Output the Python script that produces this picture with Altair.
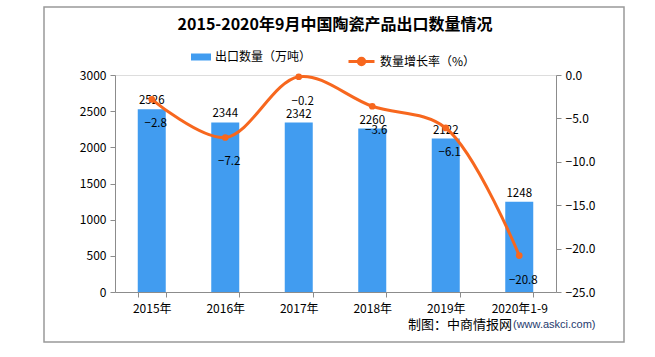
import altair as alt
import pandas as pd

categories = ["2015年", "2016年", "2017年", "2018年", "2019年", "2020年1-9"]
export_volume = [2526, 2344, 2342, 2260, 2122, 1248]
growth_rate = [-2.8, -7.2, -0.2, -3.6, -6.1, -20.8]
left_ticks = [0, 500, 1000, 1500, 2000, 2500, 3000]
right_ticks = [0, -5, -10, -15, -20, -25]
bar_series = "出口数量（万吨）"
line_series = "数量增长率（%）"
title_text = "2015-2020年9月中国陶瓷产品出口数量情况"

FONT = "Noto Sans CJK SC"
BLUE = "#419CF0"
ORANGE = "#F7671E"
GRAY = "#8C8C8C"

df = pd.DataFrame({
    "cat": categories,
    "vol": export_volume,
    "rate": growth_rate,
    "s1": [bar_series] * len(categories),
    "s2": [line_series] * len(categories),
})

base = alt.Chart(df)
x_enc = alt.X(
    "cat:N", sort=categories, title=None,
    scale=alt.Scale(paddingInner=0.62, paddingOuter=0.31),
    axis=alt.Axis(labelAngle=0, tickBand="extent", domainColor=GRAY, tickColor=GRAY,
                  tickSize=5, labelFontSize=12, labelColor="#000", labelPadding=6,
                  labelFont=FONT, grid=False),
)
left_axis = alt.Axis(values=left_ticks, format="d", grid=False, labelOverlap=False,
                     domainColor=GRAY, tickColor=GRAY, tickSize=5,
                     labelFontSize=12, labelColor="#000", labelFont=FONT, labelPadding=4)
right_axis = alt.Axis(orient="right", values=right_ticks, format=".1f", labelOverlap=False,
                      grid=False, domainColor=GRAY, tickColor=GRAY, tickSize=5,
                      labelFontSize=12, labelColor="#000", labelFont=FONT, labelPadding=4)
left_scale = alt.Scale(domain=[0, 3000])
right_scale = alt.Scale(domain=[-25, 0])

bars = base.mark_bar(size=28).encode(
    x=x_enc,
    y=alt.Y("vol:Q", title=None, scale=left_scale, axis=left_axis),
    fill=alt.Fill("s1:N", scale=alt.Scale(range=[BLUE]),
                  legend=alt.Legend(title=None, orient="none", legendX=76, legendY=-28,
                                    symbolType="M-1,-0.35H1V0.35H-1Z", symbolSize=400,
                                    symbolStrokeWidth=0, labelFontSize=12, labelFont=FONT,
                                    labelColor="#000", labelOffset=4)),
)
bar_text = base.mark_text(baseline="alphabetic", dy=-5, fontSize=11.5, font=FONT, color="#000").encode(
    x=alt.X("cat:N", sort=categories),
    y=alt.Y("vol:Q", title=None, scale=left_scale, axis=left_axis),
    text=alt.Text("vol:Q"),
)
left = alt.layer(bars, bar_text)

line = base.mark_line(interpolate="catmull-rom", strokeWidth=3).encode(
    x=alt.X("cat:N", sort=categories),
    y=alt.Y("rate:Q", title=None, scale=right_scale, axis=right_axis),
    stroke=alt.Stroke("s2:N", scale=alt.Scale(range=[ORANGE]),
                      legend=alt.Legend(title=None, orient="none", legendX=232, legendY=-28,
                                        symbolType="M-1,0H1M0.25,0A0.25,0.25,0,1,1,-0.25,0A0.25,0.25,0,1,1,0.25,0",
                                        symbolSize=676, symbolStrokeWidth=3,
                                        symbolFillColor=ORANGE, labelFontSize=12, labelFont=FONT,
                                        labelColor="#000", labelOffset=4)),
)
points = base.mark_circle(size=45, color=ORANGE, opacity=1).encode(
    x=alt.X("cat:N", sort=categories),
    y=alt.Y("rate:Q", title=None, scale=right_scale, axis=right_axis),
)
line_text = base.mark_text(dx=4, dy=25, fontSize=11.5, font=FONT, color="#000").encode(
    x=alt.X("cat:N", sort=categories),
    y=alt.Y("rate:Q", title=None, scale=right_scale, axis=right_axis),
    text=alt.Text("rate:Q", format=".1f"),
)
right = alt.layer(line, points, line_text)

frame = alt.Chart(pd.DataFrame({"a": [0]})).mark_rect(fill=None, stroke="#999999", strokeWidth=1.5).encode(
    x=alt.value(-71), x2=alt.value(509), y=alt.value(-68), y2=alt.value(267)
)
title = alt.Chart(pd.DataFrame({"t": [title_text]})).mark_text(
    align="center", baseline="middle", fontSize=16, font=FONT, fontWeight="bold", color="#000"
).encode(x=alt.value(220), y=alt.value(-50), text="t:N")
footer1 = alt.Chart(pd.DataFrame({"t": ["制图：中商情报网"]})).mark_text(
    align="right", baseline="middle", fontSize=13, font=FONT, color="#000"
).encode(x=alt.value(397), y=alt.value(250), text="t:N")
footer2 = alt.Chart(pd.DataFrame({"t": ["(www.askci.com)"]})).mark_text(
    align="left", baseline="middle", fontSize=11, font="Liberation Sans", color="#1F3A6E"
).encode(x=alt.value(398), y=alt.value(250), text="t:N")

chart = alt.layer(left, right, frame, title, footer1, footer2).resolve_scale(
    y="independent", fill="independent", stroke="independent"
).properties(
    width=441, height=217,
    padding={"left": 115, "top": 75, "right": 99, "bottom": 65},
    autosize=alt.AutoSizeParams(type="none"),
).configure_view(stroke=None).configure(background="white")

chart.save("out.html", embed_options={"renderer": "svg", "actions": False})
